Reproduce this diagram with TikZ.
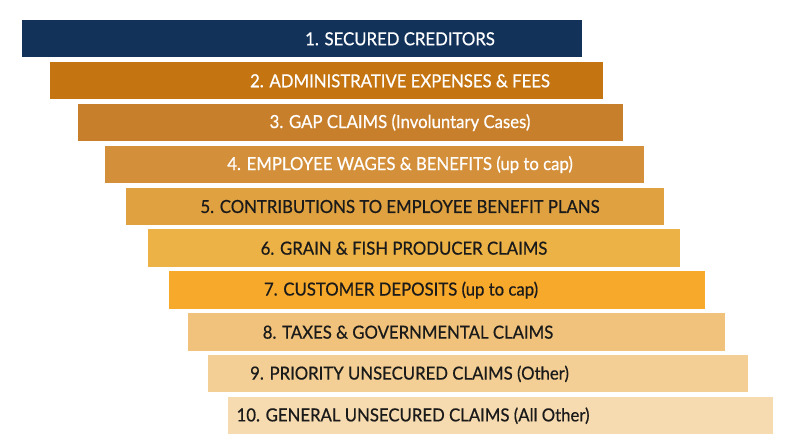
\documentclass[tikz,border=0pt]{standalone}
\usepackage{fontspec}
\setmainfont{Lato}[FakeStretch=0.93,FakeBold=0.6]
\definecolor{c1}{HTML}{12325A}
\definecolor{c2}{HTML}{C47512}
\definecolor{c3}{HTML}{C87F2C}
\definecolor{c4}{HTML}{D48F3A}
\definecolor{c5}{HTML}{E0A140}
\definecolor{c6}{HTML}{ECB246}
\definecolor{c7}{HTML}{F7A92C}
\definecolor{c8}{HTML}{F0C27B}
\definecolor{c9}{HTML}{F3CF96}
\definecolor{c10}{HTML}{F6DAB0}
\definecolor{darktext}{HTML}{1A1A1A}
\begin{document}
\begin{tikzpicture}[x=1pt,y=-1pt,
  lbl/.style={font=\fontsize{18}{21}\selectfont,inner sep=0pt,anchor=center},
  lt/.style={lbl,text=white},
  dk/.style={lbl,text=darktext}]
\useasboundingbox (0,0) rectangle (800,447);
\fill[white] (0,0) rectangle (800,447);
% bars: left, top, right, bottom
\path[fill=c1]  (21.5,19.7) rectangle (582,57.3);
\path[fill=c2]  (50,61.7) rectangle (602.7,99.3);
\path[fill=c3]  (78.3,103.7) rectangle (623.3,141.1);
\path[fill=c4]  (105,145.7) rectangle (644,183.1);
\path[fill=c5]  (126.3,187.5) rectangle (664,225);
\path[fill=c6]  (148,229.3) rectangle (680,266.8);
\path[fill=c7]  (169.3,271.2) rectangle (705,308.7);
\path[fill=c8]  (188.3,313.3) rectangle (725,350.7);
\path[fill=c9]  (208,355) rectangle (748.3,392.4);
\path[fill=c10] (227.7,396.8) rectangle (773.3,434.3);
\node[lt] (t1) at (400,38.8) {1. SECURED CREDITORS};
\node[lt] (t2) at (400,80.8) {2. ADMINISTRATIVE EXPENSES \& FEES};
\node[lt] (t3) at (400,122.6) {3. GAP CLAIMS (Involuntary Cases)};
\node[lt] (t4) at (400,164.6) {4. EMPLOYEE WAGES \& BENEFITS (up to cap)};
\node[dk] (t5) at (400,206.5) {5. CONTRIBUTIONS TO EMPLOYEE BENEFIT PLANS};
\node[dk] (t6) at (404,248.2) {6. GRAIN \& FISH PRODUCER CLAIMS};
\node[dk] (t7) at (401,290.1) {7. CUSTOMER DEPOSITS (up to cap)};
\node[dk] (t8) at (408,332.2) {8. TAXES \& GOVERNMENTAL CLAIMS};
\node[dk] (t9) at (409.5,373.9) {9. PRIORITY UNSECURED CLAIMS (Other)};
\node[dk] (t10) at (413,415.7) {10. GENERAL UNSECURED CLAIMS (All Other)};
\end{tikzpicture}
\end{document}
